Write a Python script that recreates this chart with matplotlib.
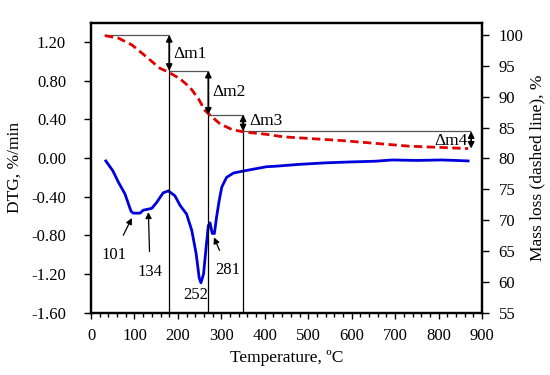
import numpy as np
import matplotlib.pyplot as plt
from matplotlib.ticker import MultipleLocator, FormatStrFormatter

plt.rcParams['font.family'] = ['Liberation Serif', 'DejaVu Serif']
plt.rcParams['axes.unicode_minus'] = True

# ---- DTG curve (blue, left axis) ----
dtg_t = [34, 50, 63, 78, 92, 97, 105, 113, 120, 130, 140, 151, 166, 178, 193, 205, 220,
         232, 242, 249, 253, 259, 265, 270, 274, 279, 284, 289, 295, 301, 312, 328, 351,
         404, 424, 481, 539, 600, 654, 693, 750, 806, 840, 868]
dtg_v = [-0.03, -0.13, -0.25, -0.37, -0.55, -0.57, -0.57, -0.57, -0.54, -0.53, -0.52, -0.46,
         -0.36, -0.34, -0.39, -0.49, -0.58, -0.75, -0.99, -1.24, -1.29, -1.20, -0.92, -0.70,
         -0.67, -0.78, -0.78, -0.61, -0.44, -0.30, -0.20, -0.155, -0.134, -0.09, -0.085,
         -0.065, -0.05, -0.04, -0.033, -0.02, -0.025, -0.02, -0.025, -0.03]

# ---- Mass loss curve (red dashed, right axis) ----
tg_t = [32, 63, 94, 120, 147, 159, 178, 205, 228, 247, 262, 274, 297, 324, 351, 404,
        443, 577, 730, 868]
tg_m = [99.9, 99.5, 98.4, 96.9, 95.3, 94.6, 94.0, 92.9, 91.5, 89.7, 87.8, 87.0, 85.6,
        84.7, 84.3, 83.9, 83.5, 82.9, 82.0, 81.6]

# ---- mass loss steps ----
step_t = [30, 180, 270, 350, 875]
step_m = [100, 94.2, 87.1, 84.4, 81.6]
step_labels = ['\u0394m1', '\u0394m2', '\u0394m3', '\u0394m4']

# ---- DTG peak annotations ----
peak_labels = ['101', '134', '252', '281']
peak_tip = [(94, -0.62), (132, -0.56), None, (283, -0.82)]
peak_text = [(52, -1.00), (136, -1.18), (240, -1.42), (315, -1.16)]

fig = plt.figure(figsize=(5.5, 3.75), dpi=100)
ax = fig.add_axes([0.1655, 0.1661, 0.7109, 0.7734])
ax2 = ax.twinx()

ax.plot(dtg_t, dtg_v, color='#0000DD', lw=2.0, zorder=3)
ax2.plot(tg_t, tg_m, color='#E00000', lw=2.0, ls=(0, (3, 1.6)), zorder=3)

ax.set_xlim(0, 900)
ax.set_ylim(-1.6, 1.4)
ax2.set_ylim(55, 102)
ybot = ax2.get_ylim()[0]

# step lines
for i in range(4):
    ax2.hlines(step_m[i], step_t[i], step_t[i + 1], color='#555555', lw=0.9, zorder=2)
    if i < 3:
        ax2.vlines(step_t[i + 1], ybot, step_m[i], color='black', lw=0.9, zorder=2)
    ax2.annotate('', xy=(step_t[i + 1], step_m[i + 1]), xytext=(step_t[i + 1], step_m[i]),
                 arrowprops=dict(arrowstyle='<|-|>', color='black', lw=1.2,
                                 mutation_scale=9, shrinkA=0, shrinkB=0), zorder=4)

ax2.text(190, 97.0, step_labels[0], fontsize=12.5, va='center', ha='left')
ax2.text(280, 90.7, step_labels[1], fontsize=12.5, va='center', ha='left')
ax2.text(364, 86.0, step_labels[2], fontsize=12.5, va='center', ha='left')
ax2.text(868, 82.8, step_labels[3], fontsize=12.5, va='center', ha='right')

for lab, tip, txt in zip(peak_labels, peak_tip, peak_text):
    if tip is None:
        ax.text(txt[0], txt[1], lab, fontsize=12, ha='center', va='center')
    else:
        ax.annotate(lab, xy=tip, xytext=txt, fontsize=12, ha='center', va='center',
                    arrowprops=dict(arrowstyle='-|>', color='black', lw=0.9,
                                    mutation_scale=9, shrinkA=7, shrinkB=0))

ax.xaxis.set_major_locator(MultipleLocator(100))
ax.xaxis.set_minor_locator(MultipleLocator(20))
ax.yaxis.set_major_locator(MultipleLocator(0.4))
ax.yaxis.set_major_formatter(FormatStrFormatter('%.2f'))
ax2.yaxis.set_major_locator(MultipleLocator(5))

ax.tick_params(axis='x', which='major', labelsize=12, direction='out', length=4, width=1, pad=7)
ax.tick_params(axis='y', which='major', labelsize=12, direction='out', length=5, width=1, pad=13)
ax.tick_params(axis='x', which='minor', direction='out', length=3, width=1)
ax2.tick_params(axis='y', which='major', labelsize=12, direction='out', length=5, width=1, pad=7)

for a in (ax, ax2):
    for s in a.spines.values():
        s.set_linewidth(1.6)

ax.set_xlabel('Temperature, \u00baC', fontsize=12.5, labelpad=4)
ax.set_ylabel('DTG, %/min', fontsize=12.5, labelpad=6)
ax2.set_ylabel('Mass loss (dashed line), %', fontsize=12.5, labelpad=4)

fig.savefig('out.png', dpi=100)
